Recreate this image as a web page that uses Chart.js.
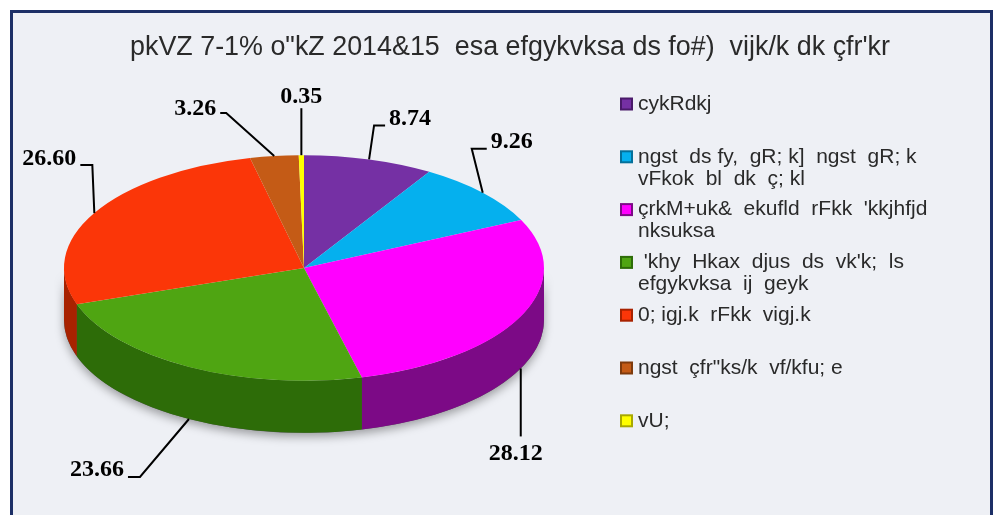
<!DOCTYPE html>
<html>
<head>
<meta charset="utf-8">
<script src="https://cdn.jsdelivr.net/npm/chart.js@4.4.1/dist/chart.umd.min.js"></script>
<style>
  html, body { margin: 0; padding: 0; background: #fff; }
  canvas { display: block; }
</style>
</head>
<body>
<canvas id="pie" width="997" height="515"></canvas>
<script>
const titleText = 'pkVZ 7-1% o"kZ 2014&15  esa efgykvksa ds fo#)  vijk/k dk çfr\'kr';

const categories = [
  ['cykRdkj'],
  ['ngst  ds fy,  gR; k]  ngst  gR; k', 'vFkok  bl  dk  ç; kl'],
  ['çrkM+uk&  ekufld  rFkk  \'kkjhfjd', 'nksuksa'],
  [' \'khy  Hkax  djus  ds  vk\'k;  ls', 'efgykvksa  ij  geyk'],
  ['0; igj.k  rFkk  vigj.k'],
  ['ngst  çfr"ks/k  vf/kfu; e'],
  ['vU;'],
];
const values = [8.74, 9.26, 28.12, 23.66, 26.60, 3.26, 0.35];
const valueLabels = ['8.74', '9.26', '28.12', '23.66', '26.60', '3.26', '0.35'];

const topColors  = ['#7530a4', '#05b0ee', '#ff00ff', '#4fa512', '#fb3608', '#c45b16', '#ffff00'];
const sideColors = ['#4a1a6a', '#04709a', '#7c0a86', '#2d6c08', '#a82200', '#7e3a0c', '#a8a800'];

// 3d look
const TILT = 0.47;
const DEPTH = 52;
const CENTER_Y = 268;

// where each value label sits, relative to its anchor on the pie rim
// dx, dy = elbow, hz = short horizontal tick, tx/ty = text offset from tick end
const labelPlace = [
  { dx: 5,   dy: -34, hz: 11,  tx: 4,   ty: -7, align: 'left',  front: false },
  { dx: -11, dy: -44, hz: 15,  tx: 4,   ty: -7, align: 'left',  front: false },
  { dx: 0,   dy: 68,  hz: 0,   tx: -5,  ty: 17, align: 'center', front: true },
  { dx: -49, dy: 58,  hz: -12, tx: -4,  ty: -7, align: 'right', front: true },
  { dx: -2,  dy: -48, hz: -12, tx: -4,  ty: -6, align: 'right', front: false },
  { dx: -48, dy: -43, hz: -6,  tx: -4,  ty: -4, align: 'right', front: false },
  { dx: 0,   dy: -47, hz: 0,   tx: 0,   ty: -11, align: 'center', front: false },
];

function pieGeo(chart) {
  const el = chart.getDatasetMeta(0).data[0];
  return { cx: el.x, cy0: el.y, r: el.outerRadius };
}

function rim(g, ang, down) {
  return { x: g.cx + g.r * Math.cos(ang), y: CENTER_Y + g.r * TILT * Math.sin(ang) + (down || 0) };
}

const pie3d = {
  id: 'pie3d',
  beforeDraw(chart) {
    const ctx = chart.ctx;
    ctx.save();
    ctx.fillStyle = '#ffffff';
    ctx.fillRect(0, 0, chart.width, chart.height);
    ctx.fillStyle = '#eef0f5';
    ctx.fillRect(12, 12, 979, 510);
    ctx.strokeStyle = '#1c2f66';
    ctx.lineWidth = 3;
    ctx.strokeRect(11.5, 11.5, 980, 520);
    ctx.restore();
  },
  beforeDatasetsDraw(chart) {
    const ctx = chart.ctx;
    const g = pieGeo(chart);
    const rx = g.r, ry = g.r * TILT;
    // shadow under the body
    ctx.save();
    ctx.shadowColor = 'rgba(0,0,0,0.35)';
    ctx.shadowBlur = 10;
    ctx.shadowOffsetY = 4;
    ctx.fillStyle = '#555';
    ctx.beginPath();
    ctx.ellipse(g.cx, CENTER_Y, rx, ry, 0, 0, Math.PI);
    ctx.ellipse(g.cx, CENTER_Y + DEPTH, rx, ry, 0, Math.PI, 0, true);
    ctx.closePath();
    ctx.fill();
    ctx.restore();

    // side walls, only the front half is seen
    chart.getDatasetMeta(0).data.forEach((el, i) => {
      const a = Math.max(el.startAngle, 0);
      const b = Math.min(el.endAngle, Math.PI);
      if (a >= b) return;
      ctx.save();
      ctx.fillStyle = sideColors[i];
      ctx.beginPath();
      ctx.ellipse(g.cx, CENTER_Y, rx, ry, 0, a, b);
      ctx.ellipse(g.cx, CENTER_Y + DEPTH, rx, ry, 0, b, a, true);
      ctx.closePath();
      ctx.fill();
      ctx.restore();
    });

    // squash the top face
    ctx.save();
    ctx.translate(0, CENTER_Y);
    ctx.scale(1, TILT);
    ctx.translate(0, -g.cy0);
  },
  afterDatasetsDraw(chart) {
    chart.ctx.restore();
  },
  afterDraw(chart) {
    const ctx = chart.ctx;
    const g = pieGeo(chart);

    // title
    ctx.save();
    ctx.fillStyle = '#2a2a2a';
    ctx.font = '27px "Liberation Sans", Arial, sans-serif';
    ctx.textAlign = 'center';
    ctx.textBaseline = 'middle';
    const tw = ctx.measureText(titleText).width;
    ctx.translate(510, 48);
    ctx.scale(760 / tw, 1);
    ctx.fillText(titleText, 0, 0);
    ctx.restore();

    // value labels with leader lines
    ctx.save();
    ctx.strokeStyle = '#000';
    ctx.lineWidth = 2;
    ctx.fillStyle = '#000';
    ctx.font = 'bold 24px "Liberation Serif", "Times New Roman", serif';
    ctx.textBaseline = 'middle';
    chart.getDatasetMeta(0).data.forEach((el, i) => {
      const p = labelPlace[i];
      const mid = (el.startAngle + el.endAngle) / 2;
      const an = rim(g, mid, p.front ? DEPTH : 0);
      const ex = an.x + p.dx, ey = an.y + p.dy;
      ctx.beginPath();
      ctx.moveTo(an.x, an.y);
      ctx.lineTo(ex, ey);
      ctx.lineTo(ex + p.hz, ey);
      ctx.stroke();
      ctx.textAlign = p.align;
      ctx.fillText(valueLabels[i], ex + p.hz + p.tx, ey + p.ty);
    });
    ctx.restore();

    // legend
    ctx.save();
    ctx.font = '21px "Liberation Sans", Arial, sans-serif';
    ctx.textBaseline = 'middle';
    ctx.textAlign = 'left';
    const lx = 620, ly = 104, step = 52.8, lineH = 22;
    categories.forEach((lines, i) => {
      const y = ly + i * step;
      const s = 13;
      ctx.fillStyle = sideColors[i];
      ctx.fillRect(lx, y - s / 2, s, s);
      ctx.fillStyle = topColors[i];
      ctx.fillRect(lx + 2, y - s / 2 + 2, s - 4, s - 4);
      ctx.fillStyle = '#2a2a2a';
      lines.forEach((t, j) => ctx.fillText(t, lx + 18, y + j * lineH));
    });
    ctx.restore();
  }
};

new Chart(document.getElementById('pie'), {
  type: 'pie',
  data: {
    labels: categories.map(c => c.join(' ')),
    datasets: [{
      data: values,
      backgroundColor: topColors,
      borderWidth: 0,
    }]
  },
  options: {
    responsive: false,
    animation: false,
    rotation: 0,
    layout: { padding: { left: 64, right: 453, top: 10, bottom: 25 } },
    plugins: {
      legend: { display: false },
      title: { display: false },
      tooltip: { enabled: false }
    }
  },
  plugins: [pie3d]
});
</script>
</body>
</html>
